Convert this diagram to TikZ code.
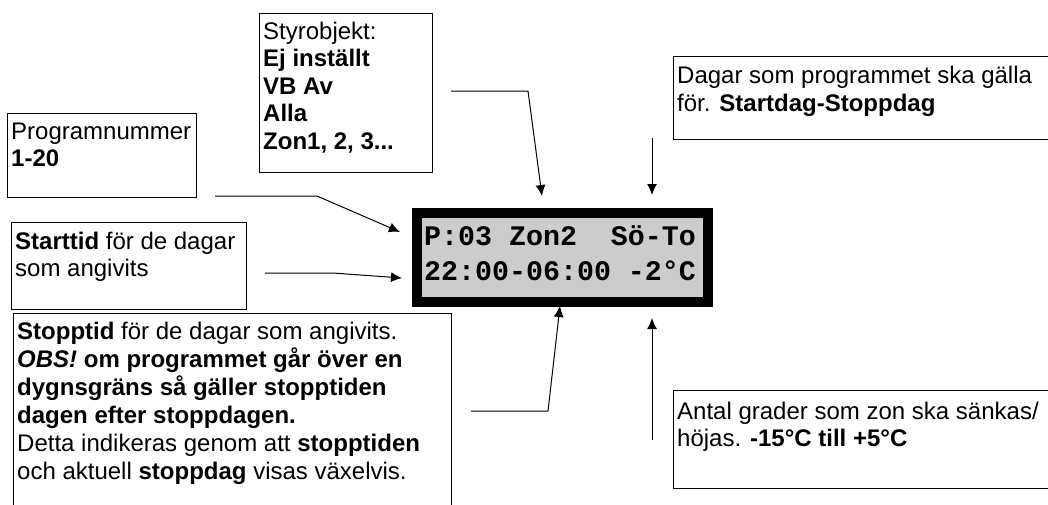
\documentclass[tikz,border=0pt]{standalone}
\usepackage{fontspec}
\setmainfont{Liberation Sans}
\newfontfamily\lcdfont{Liberation Mono}
\usetikzlibrary{arrows.meta}

\definecolor{lcdgray}{RGB}{204,204,204}

\tikzset{
  note/.style={draw, line width=1.4pt, anchor=north west, inner sep=0pt},
  notetext/.style={anchor=base west, inner sep=0pt, font=\fontsize{24}{27.6}\selectfont},
  lcdrow/.style={anchor=base west, inner sep=0pt, font=\lcdfont\bfseries\fontsize{28.3}{30}\selectfont},
  pointer/.style={line width=1pt, -{Latex[length=11pt,width=10pt]}},
}

\begin{document}
\begin{tikzpicture}[x=1pt, y=-1pt]
    \useasboundingbox (0,0) rectangle (1048,504);

    % the display
    \node (lcd) [draw, line width=10pt, fill=lcdgray, minimum width=291pt, minimum height=89pt, inner sep=0pt] at (562.5,257.5) {};
    \node (row1) [lcdrow] at (424,245) {P:03 Zon2~~Sö-To};
    \node (row2) [lcdrow] at (424,280) {22:00-06:00 -2°C};

    % boxes
    \node (prog) [note, minimum width=189pt, minimum height=84pt] at (7,113) {};
    \node (start) [note, minimum width=235pt, minimum height=87pt] at (11,222) {};
    \node (stopp) [note, minimum width=438pt, minimum height=200pt] at (13,313) {};
    \node (styr) [note, minimum width=173pt, minimum height=159pt] at (259,13) {};
    \node (dagar) [note, minimum width=390pt, minimum height=83pt] at (673,56) {};
    \node (antal) [note, minimum width=390pt, minimum height=98pt] at (673,390) {};

    \node (prog-txt) [notetext] at (11,139)
        {\parbox[t]{300pt}{Programnummer\\\textbf{1-20}}};
    \node (start-txt) [notetext] at (15,249)
        {\parbox[t]{300pt}{\textbf{Starttid} för de dagar\\som angivits}};
    \node (stopp-txt) [notetext, font=\fontsize{24}{28}\selectfont] at (17,339)
        {\parbox[t]{500pt}{\textbf{Stopptid} för de dagar som angivits.\\
        \textbf{\textit{OBS!} om programmet går över en}\\
        \textbf{dygnsgräns så gäller stopptiden}\\
        \textbf{dagen efter stoppdagen.}\\
        Detta indikeras genom att \textbf{stopptiden}\\
        och aktuell \textbf{stoppdag} visas växelvis.}};
    \node (styr-txt) [notetext] at (263,39)
        {\parbox[t]{200pt}{Styrobjekt:\\\textbf{Ej inställt}\\\textbf{VB Av}\\\textbf{Alla}\\\textbf{Zon1, 2, 3...}}};
    \node (dagar-txt) [notetext, font=\fontsize{24}{28}\selectfont] at (677,83)
        {\parbox[t]{500pt}{Dagar som programmet ska gälla\\för. \textbf{Startdag-Stoppdag}}};
    \node (antal-txt) [notetext] at (677,419)
        {\parbox[t]{500pt}{Antal grader som zon ska sänkas/\\höjas. \textbf{-15°C till +5°C}}};

    % pointers
    \coordinate (styr-a) at (451,91);
    \coordinate (styr-b) at (528,91);
    \coordinate (styr-c) at (542,196);
    \coordinate (dagar-a) at (652,138);
    \coordinate (dagar-c) at (652,195);
    \coordinate (prog-a) at (215,196);
    \coordinate (prog-b) at (317,196);
    \coordinate (prog-c) at (400,232);
    \coordinate (start-a) at (265,273);
    \coordinate (start-b) at (333,273);
    \coordinate (start-c) at (402,278);
    \coordinate (stopp-a) at (471,411);
    \coordinate (stopp-b) at (548,411);
    \coordinate (stopp-c) at (560,306);
    \coordinate (antal-a) at (652,440);
    \coordinate (antal-c) at (652,318);

    \draw[pointer] (styr-a) -- (styr-b) -- (styr-c);
    \draw[pointer] (dagar-a) -- (dagar-c);
    \draw[pointer] (prog-a) -- (prog-b) -- (prog-c);
    \draw[pointer] (start-a) -- (start-b) -- (start-c);
    \draw[pointer] (stopp-a) -- (stopp-b) -- (stopp-c);
    \draw[pointer] (antal-a) -- (antal-c);
\end{tikzpicture}
\end{document}
